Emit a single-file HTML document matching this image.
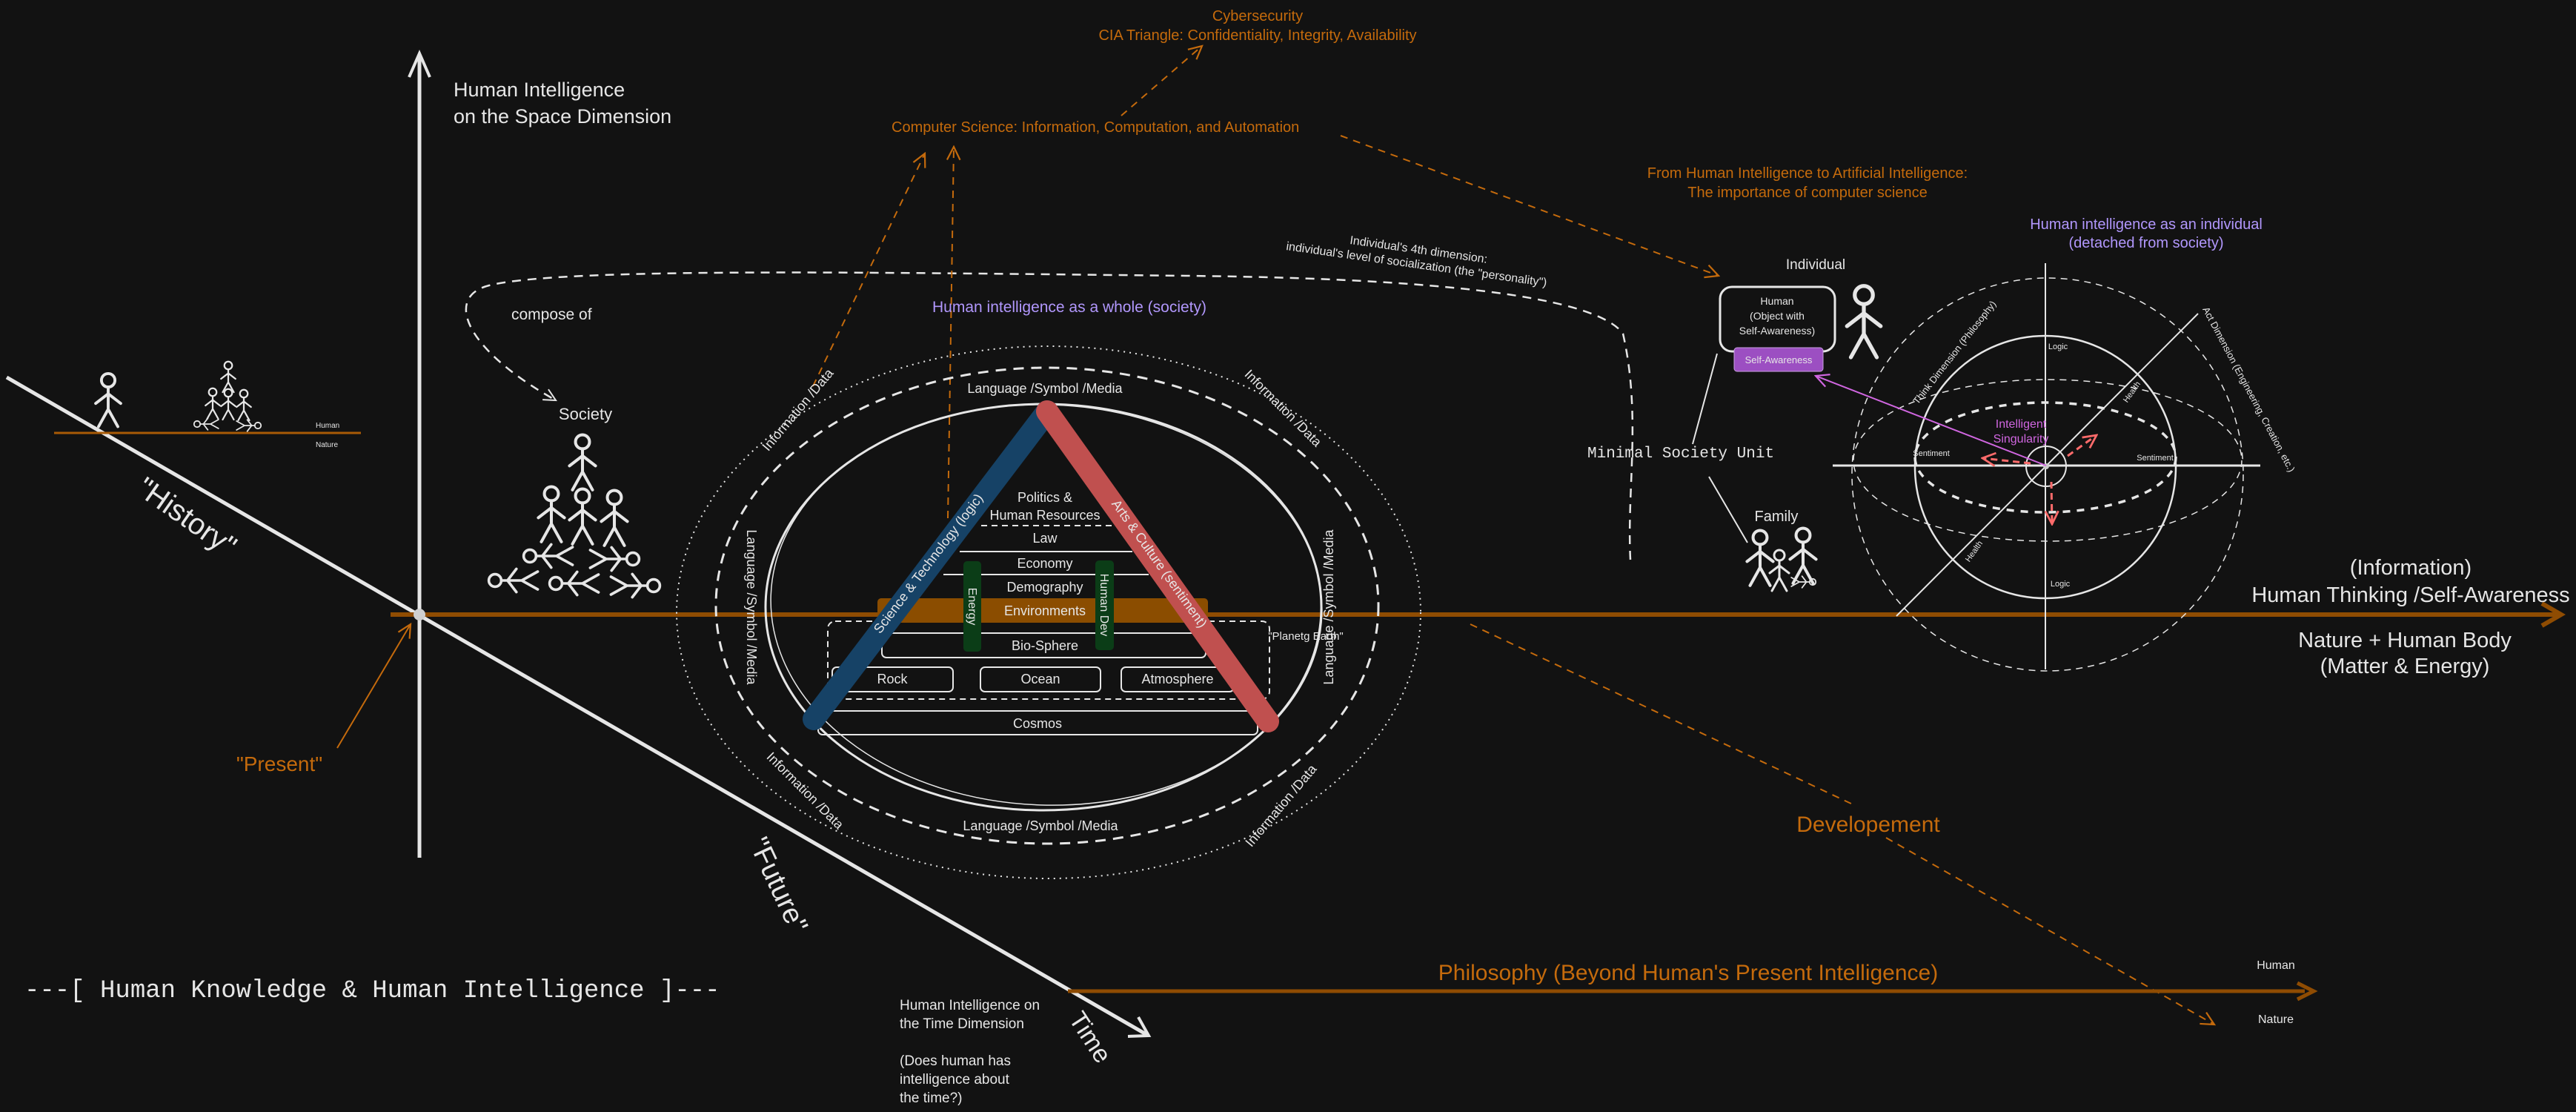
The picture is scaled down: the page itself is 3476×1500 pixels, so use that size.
<!DOCTYPE html>
<html><head><meta charset="utf-8"><style>
html,body{margin:0;padding:0;background:#121212;}
svg{display:block;}
text{font-family:"Liberation Sans",sans-serif;fill:#e6e6e6;}
.o{fill:#c46a0c;}
.p{fill:#b197fc;}
.m{font-family:"Liberation Mono",monospace;}
</style></head><body>
<svg width="3476" height="1500" viewBox="0 0 3476 1500" xmlns="http://www.w3.org/2000/svg">
<defs>
<g id="sf" fill="none" stroke="#e6e6e6" stroke-width="3" stroke-linecap="round">
<circle cx="0" cy="0" r="7"/>
<path d="M0 7 V30 M0 14 L-13 24 M0 14 L13 24 M0 30 L-10 48 M0 30 L10 48"/>
</g>
<marker id="ah" viewBox="0 0 20 20" refX="18" refY="10" markerWidth="20" markerHeight="20" markerUnits="userSpaceOnUse" orient="auto"><path d="M2 2 L18 10 L2 18" fill="none" stroke="#e6e6e6" stroke-width="2"/></marker>
<marker id="aho" viewBox="0 0 20 20" refX="18" refY="10" markerWidth="22" markerHeight="22" markerUnits="userSpaceOnUse" orient="auto"><path d="M2 2 L18 10 L2 18" fill="none" stroke="#c46a0c" stroke-width="2"/></marker>
<marker id="ahr" viewBox="0 0 20 20" refX="18" refY="10" markerWidth="22" markerHeight="22" markerUnits="userSpaceOnUse" orient="auto"><path d="M2 2 L18 10 L2 18" fill="none" stroke="#ff6b6b" stroke-width="2.5"/></marker>
<marker id="ahp" viewBox="0 0 20 20" refX="18" refY="10" markerWidth="22" markerHeight="22" markerUnits="userSpaceOnUse" orient="auto"><path d="M2 2 L18 10 L2 18" fill="none" stroke="#d066e0" stroke-width="2"/></marker>
</defs>
<rect width="3476" height="1500" fill="#121212"/>

<!-- axes -->
<line x1="566" y1="1157" x2="566" y2="74" stroke="#e6e6e6" stroke-width="5"/>
<path d="M552 104 L566 72 L580 104" fill="none" stroke="#e6e6e6" stroke-width="4"/>
<line x1="9" y1="509" x2="1548" y2="1396" stroke="#e6e6e6" stroke-width="5"/>
<path d="M1522 1398 L1550 1397 L1536 1372" fill="none" stroke="#e6e6e6" stroke-width="4"/>
<line x1="527" y1="829" x2="3450" y2="829" stroke="#8f4c02" stroke-width="6"/>
<path d="M3430 814 L3456 829 L3430 844" fill="none" stroke="#8f4c02" stroke-width="6"/>
<circle cx="566" cy="829" r="8" fill="#cfcfcf"/>

<!-- horizon mini -->
<line x1="73" y1="584" x2="487" y2="584" stroke="#a85a05" stroke-width="3"/>
<text x="426" y="577" font-size="10">Human</text>
<text x="426" y="603" font-size="10">Nature</text>
<use href="#sf" transform="translate(146,513) scale(1.3)"/>
<use href="#sf" transform="translate(308,493) scale(0.75)"/>
<use href="#sf" transform="translate(287,529) scale(0.75)"/>
<use href="#sf" transform="translate(308,530) scale(0.75)"/>
<use href="#sf" transform="translate(329,531) scale(0.75)"/>
<use href="#sf" transform="translate(266,572) rotate(-90) scale(0.6)"/>
<use href="#sf" transform="translate(348,574) rotate(90) scale(0.6)"/>

<text x="250" y="710" font-size="40" transform="rotate(35 250 700)" text-anchor="middle">"History"</text>
<text x="1048" y="1205" font-size="38" transform="rotate(65 1048 1195)" text-anchor="middle">"Future"</text>
<text x="1470" y="1410" font-size="34" transform="rotate(57 1470 1400)" text-anchor="middle">Time</text>

<!-- present -->
<line x1="455" y1="1009" x2="554" y2="842" stroke="#c46a0c" stroke-width="2" marker-end="url(#aho)"/>
<text x="377" y="1040" font-size="28" class="o" text-anchor="middle">"Present"</text>

<text x="612" y="130" font-size="27">Human Intelligence</text>
<text x="612" y="166" font-size="27">on the Space Dimension</text>

<text x="33" y="1345" font-size="34" class="m" fill="#dddddd">---[ Human Knowledge &amp; Human Intelligence ]---</text>

<g font-size="19">
<text x="1214" y="1362">Human Intelligence on</text>
<text x="1214" y="1387">the Time Dimension</text>
<text x="1214" y="1437">(Does human has</text>
<text x="1214" y="1462">intelligence about</text>
<text x="1214" y="1487">the time?)</text>
</g>

<!-- compose of dashed loop -->
<path d="M2200 755 C2195 660 2215 560 2190 450 C2150 395 1900 375 1600 372 C1200 368 760 360 660 385 C600 400 625 470 750 540" fill="none" stroke="#e6e6e6" stroke-width="2.5" stroke-dasharray="12 9" marker-end="url(#ah)"/>
<text x="690" y="431" font-size="21">compose of</text>
<text x="790" y="566" font-size="22" text-anchor="middle">Society</text>
<use href="#sf" transform="translate(786,596) scale(1.35)"/>
<use href="#sf" transform="translate(744,666) scale(1.35)"/>
<use href="#sf" transform="translate(786,669) scale(1.35)"/>
<use href="#sf" transform="translate(829,671) scale(1.35)"/>
<use href="#sf" transform="translate(715,750) rotate(-90) scale(1.2)"/>
<use href="#sf" transform="translate(854,754) rotate(90) scale(1.2)"/>
<use href="#sf" transform="translate(668,783) rotate(-90) scale(1.2)"/>
<use href="#sf" transform="translate(750,787) rotate(-90) scale(1.2)"/>
<use href="#sf" transform="translate(882,790) rotate(90) scale(1.2)"/>

<!-- orange top texts -->
<g font-size="20" class="o">
<text x="1697" y="28" text-anchor="middle" class="o">Cybersecurity</text>
<text x="1697" y="54" text-anchor="middle" class="o">CIA Triangle: Confidentiality, Integrity, Availability</text>
<text x="1203" y="178" class="o">Computer Science: Information, Computation, and Automation</text>
<text x="2439" y="240" text-anchor="middle" class="o">From Human Intelligence to Artificial Intelligence:</text>
<text x="2439" y="266" text-anchor="middle" class="o">The importance of computer science</text>
</g>
<g stroke="#c46a0c" stroke-width="2" stroke-dasharray="10 8" fill="none">
<line x1="1513" y1="156" x2="1622" y2="62" marker-end="url(#aho)"/>
<line x1="1809" y1="183" x2="2319" y2="372" marker-end="url(#aho)"/>
<line x1="1097" y1="521" x2="1248" y2="207" marker-end="url(#aho)"/>
<line x1="1279" y1="699" x2="1287" y2="198" marker-end="url(#aho)"/>
<line x1="1984" y1="842" x2="2500" y2="1085"/>
<line x1="2545" y1="1130" x2="2988" y2="1382" marker-end="url(#aho)"/>
</g>
<text x="1258" y="421" font-size="21" class="p">Human intelligence as a whole (society)</text>
<g font-size="16" transform="rotate(8 1900 345)">
<text x="1913" y="340" text-anchor="middle">Individual's 4th dimension:</text>
<text x="1913" y="360" text-anchor="middle">individual's level of socialization (the "personality")</text>
</g>

<!-- central society diagram -->
<ellipse cx="1415" cy="826" rx="502" ry="359" fill="none" stroke="#e6e6e6" stroke-width="2" stroke-dasharray="2 6"/>
<ellipse cx="1413" cy="817" rx="447" ry="321" fill="none" stroke="#e6e6e6" stroke-width="3" stroke-dasharray="14 10"/>
<ellipse cx="1408" cy="819" rx="375" ry="274" fill="none" stroke="#e6e6e6" stroke-width="3"/>
<ellipse cx="1412" cy="816" rx="372" ry="270" fill="none" stroke="#e6e6e6" stroke-width="1.5" transform="rotate(2 1412 816)"/>
<g font-size="18">
<text x="1410" y="530" text-anchor="middle">Language /Symbol /Media</text>
<text x="1404" y="1120" text-anchor="middle">Language /Symbol /Media</text>
<text x="1008" y="819" text-anchor="middle" transform="rotate(90 1008 819)">Language /Symbol /Media</text>
<text x="1799" y="819" text-anchor="middle" transform="rotate(-90 1799 819)">Language /Symbol /Media</text>
<text x="1078" y="558" text-anchor="middle" transform="rotate(-50 1078 554)">Information /Data</text>
<text x="1730" y="556" text-anchor="middle" transform="rotate(45 1730 552)">Information /Data</text>
<text x="1085" y="1072" text-anchor="middle" transform="rotate(45 1085 1068)">Information /Data</text>
<text x="1730" y="1092" text-anchor="middle" transform="rotate(-50 1730 1088)">Information /Data</text>
</g>
<!-- layers -->
<g fill="none" stroke="#e6e6e6" stroke-width="2">
<line x1="1324" y1="709" x2="1503" y2="709" stroke-dasharray="8 6"/>
<line x1="1295" y1="744" x2="1528" y2="744"/>
<line x1="1273" y1="775" x2="1550" y2="775"/>
<rect x="1117" y="838" width="596" height="105" rx="10" stroke-dasharray="8 6"/>
<rect x="1190" y="854" width="437" height="33" rx="6"/>
<rect x="1123" y="900" width="163" height="33" rx="6"/>
<rect x="1323" y="900" width="162" height="33" rx="6"/>
<rect x="1513" y="900" width="152" height="33" rx="6"/>
<rect x="1104" y="959" width="593" height="32" rx="6"/>
</g>
<rect x="1184" y="807" width="446" height="33" rx="5" fill="#8b4d00"/>
<g font-size="18" text-anchor="middle">
<text x="1410" y="677">Politics &amp;</text>
<text x="1410" y="701">Human Resources</text>
<text x="1410" y="732">Law</text>
<text x="1410" y="766">Economy</text>
<text x="1410" y="798">Demography</text>
<text x="1410" y="830">Environments</text>
<text x="1410" y="877">Bio-Sphere</text>
<text x="1204" y="922">Rock</text>
<text x="1404" y="922">Ocean</text>
<text x="1589" y="922">Atmosphere</text>
<text x="1400" y="982">Cosmos</text>
<text x="1762" y="863" font-size="15">"Planetg Earth"</text>
</g>
<!-- bars -->
<line x1="1413" y1="555" x2="1098" y2="970" stroke="#164266" stroke-width="30" stroke-linecap="round"/>
<line x1="1413" y1="555" x2="1711" y2="973" stroke="#c0504f" stroke-width="30" stroke-linecap="round"/>
<text x="1255" y="765" font-size="18" text-anchor="middle" transform="rotate(-52.8 1255 762)">Science &amp; Technology (logic)</text>
<text x="1562" y="765" font-size="18" text-anchor="middle" transform="rotate(54.5 1562 762)">Arts &amp; Culture (sentiment)</text>
<rect x="1300" y="757" width="24" height="122" rx="5" fill="#0b3d17"/>
<rect x="1478" y="756" width="25" height="121" rx="5" fill="#0b3d17"/>
<text x="1312" y="818" font-size="16" text-anchor="middle" transform="rotate(90 1312 818)" dy="5">Energy</text>
<text x="1490" y="816" font-size="16" text-anchor="middle" transform="rotate(90 1490 816)" dy="5">Human Dev</text>

<!-- right side: individual -->
<text x="2896" y="309" font-size="20" class="p" text-anchor="middle">Human intelligence as an individual</text>
<text x="2896" y="334" font-size="20" class="p" text-anchor="middle">(detached from society)</text>
<text x="2450" y="363" font-size="19" text-anchor="middle">Individual</text>
<rect x="2321" y="387" width="155" height="87" rx="16" fill="none" stroke="#e6e6e6" stroke-width="3"/>
<g font-size="14" text-anchor="middle">
<text x="2398" y="411">Human</text>
<text x="2398" y="431">(Object with</text>
<text x="2398" y="451">Self-Awareness)</text>
</g>
<rect x="2340" y="469" width="120" height="32" rx="4" fill="#9c4fc2" stroke="#c9a0e0" stroke-width="1"/>
<text x="2400" y="490" font-size="13" text-anchor="middle">Self-Awareness</text>
<use href="#sf" transform="translate(2515,398) scale(1.75)"/>
<line x1="2317" y1="477" x2="2284" y2="599" stroke="#e6e6e6" stroke-width="2"/>
<line x1="2306" y1="643" x2="2358" y2="732" stroke="#e6e6e6" stroke-width="2"/>
<text x="2142" y="617" font-size="21" class="m">Minimal Society Unit</text>
<text x="2397" y="703" font-size="20" text-anchor="middle">Family</text>
<use href="#sf" transform="translate(2375,725) scale(1.35)"/>
<use href="#sf" transform="translate(2433,722) scale(1.35)"/>
<use href="#sf" transform="translate(2401,749) scale(1.0)"/>
<use href="#sf" transform="translate(2446,785) rotate(90) scale(0.6)"/>

<!-- sphere -->
<g fill="none" stroke="#e6e6e6">
<line x1="2760" y1="355" x2="2760" y2="903" stroke-width="2"/>
<line x1="2473" y1="628" x2="3050" y2="628" stroke-width="3"/>
<ellipse cx="2763" cy="640" rx="264" ry="265" stroke-width="1.5" stroke-dasharray="9 7"/>
<ellipse cx="2760" cy="630" rx="176" ry="177" stroke-width="2.5"/>
<ellipse cx="2763" cy="621" rx="262" ry="109" stroke-width="1.5" stroke-dasharray="9 7"/>
<ellipse cx="2760" cy="617" rx="176" ry="74" stroke-width="3.5" stroke-dasharray="10 9"/>
<circle cx="2761" cy="629" r="27" stroke-width="2"/>
<line x1="2559" y1="831" x2="2966" y2="423" stroke-width="2"/>
</g>
<circle cx="2761" cy="629" r="4" fill="#ccc"/>
<g font-size="11">
<text x="2777" y="471" text-anchor="middle">Logic</text>
<text x="2780" y="791" text-anchor="middle">Logic</text>
<text x="2606" y="615" text-anchor="middle">Sentiment</text>
<text x="2908" y="621" text-anchor="middle">Sentiment</text>
<text x="2877" y="532" text-anchor="middle" transform="rotate(-55 2877 529)">Health</text>
<text x="2664" y="747" text-anchor="middle" transform="rotate(-55 2664 744)">Health</text>
<text x="2637" y="480" font-size="13" text-anchor="middle" transform="rotate(-52 2637 475)">Think Dimension (Philosophy)</text>
<text x="3035" y="530" font-size="13" text-anchor="middle" transform="rotate(62 3035 525)">Act Dimension (Engineering, Creation, etc.)</text>
</g>
<text x="2727" y="577" font-size="16" text-anchor="middle" style="fill:#d066e0">Intelligent</text>
<text x="2727" y="597" font-size="16" text-anchor="middle" style="fill:#d066e0">Singularity</text>
<line x1="2761" y1="628" x2="2450" y2="507" stroke="#d066e0" stroke-width="2" marker-end="url(#ahp)"/>
<g stroke="#ff6b6b" stroke-width="3" stroke-dasharray="9 6" fill="none">
<line x1="2740" y1="625" x2="2675" y2="618" marker-end="url(#ahr)"/>
<line x1="2790" y1="615" x2="2829" y2="587" marker-end="url(#ahr)"/>
<line x1="2768" y1="650" x2="2769" y2="707" marker-end="url(#ahr)"/>
</g>
<g font-size="29" text-anchor="middle">
<text x="3253" y="775">(Information)</text>
<text x="3253" y="812">Human Thinking /Self-Awareness</text>
<text x="3245" y="873">Nature + Human Body</text>
<text x="3245" y="908">(Matter &amp; Energy)</text>
</g>

<!-- bottom right -->
<text x="2521" y="1122" font-size="30" class="o" text-anchor="middle">Developement</text>
<line x1="1441" y1="1337" x2="3110" y2="1337" stroke="#8f4c02" stroke-width="5"/>
<path d="M3100 1326 L3122 1337 L3100 1348" fill="none" stroke="#8f4c02" stroke-width="5"/>
<text x="2278" y="1322" font-size="30" class="o" text-anchor="middle">Philosophy (Beyond Human's Present Intelligence)</text>
<text x="3071" y="1307" font-size="16" text-anchor="middle">Human</text>
<text x="3071" y="1380" font-size="16" text-anchor="middle">Nature</text>
</svg>
</body></html>
